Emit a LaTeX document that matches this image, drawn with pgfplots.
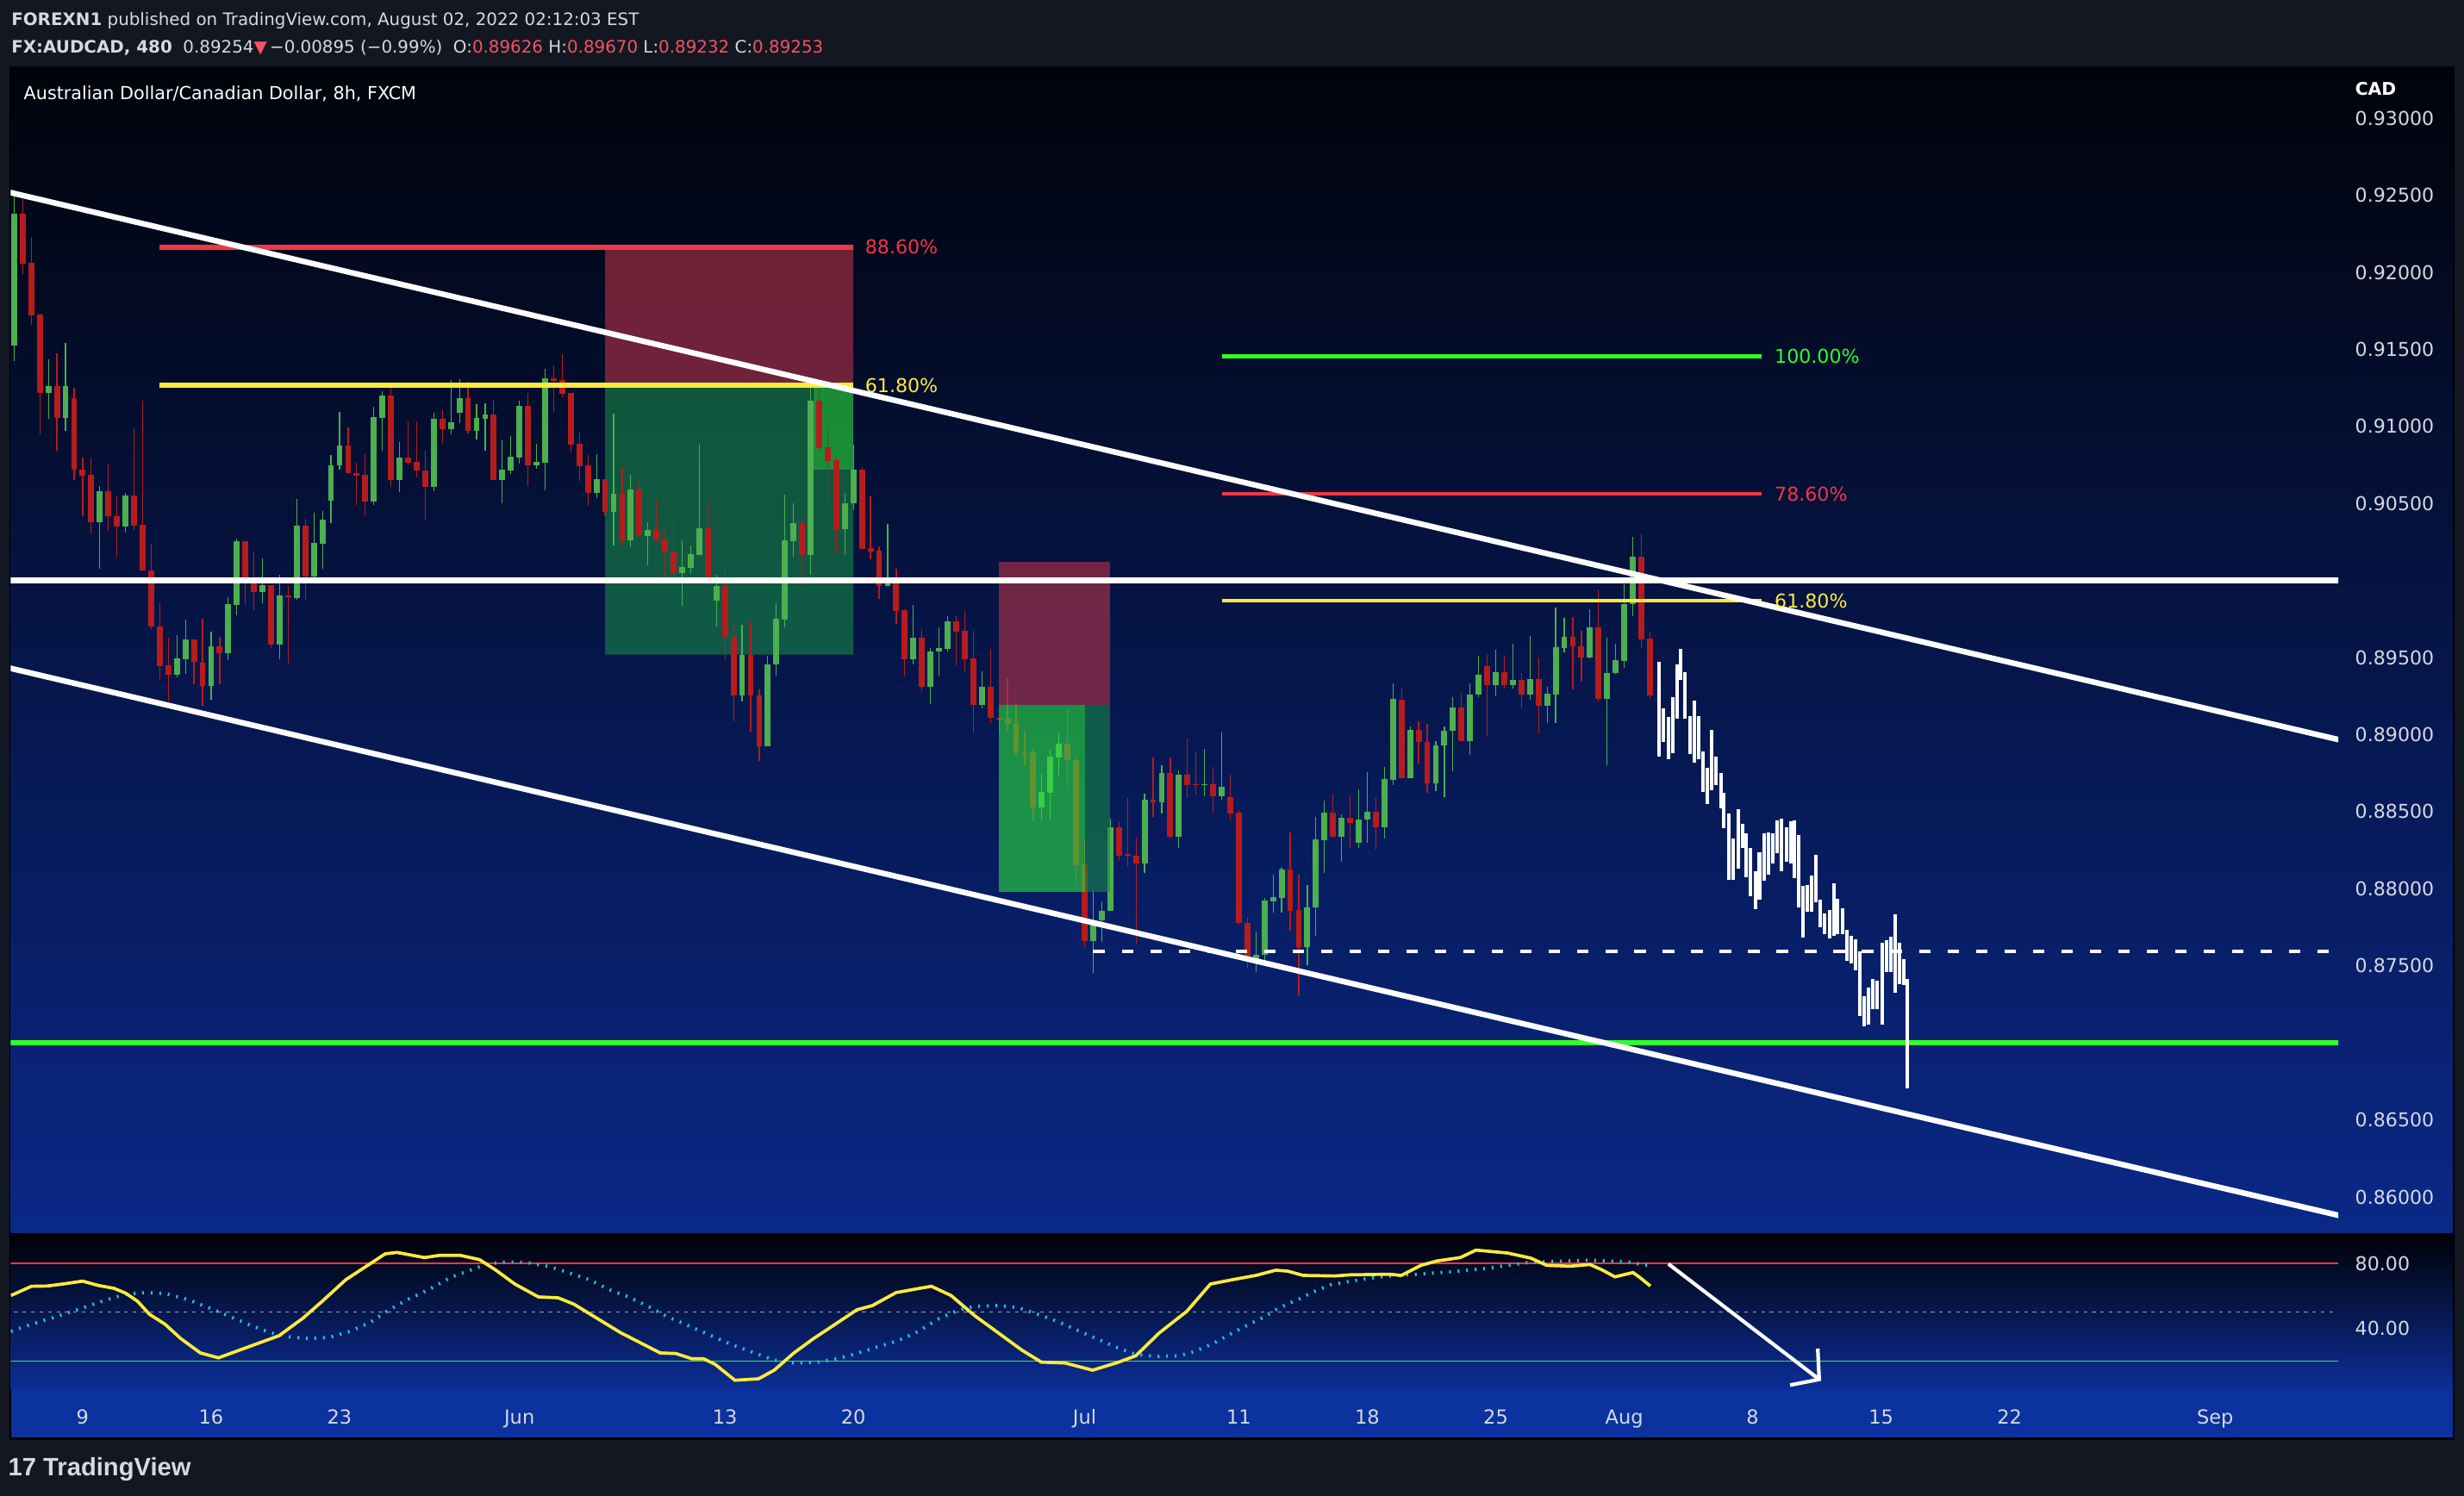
\documentclass[border=0pt]{standalone}
\usepackage{pgfplots}
\pgfplotsset{compat=1.18}
\usepackage{pgfplotstable}
\usepackage{fontspec}
\setmainfont{DejaVu Sans}
\newfontfamily\lib{Liberation Sans}

\definecolor{tvbg}{RGB}{19,23,34}
\definecolor{tvtext}{RGB}{214,217,224}
\definecolor{mtop}{RGB}{1,3,10}
\definecolor{mbot}{RGB}{10,40,135}
\definecolor{otop}{RGB}{0,1,6}
\definecolor{obot}{RGB}{12,46,150}
\definecolor{tband}{RGB}{11,50,158}
\definecolor{cup}{RGB}{76,175,80}
\definecolor{cdn}{RGB}{183,28,28}
\definecolor{fred}{RGB}{242,54,69}
\definecolor{fyel}{RGB}{255,235,59}
\definecolor{fgrn}{RGB}{46,255,46}
\definecolor{hred}{RGB}{247,82,95}
\definecolor{boxred}{RGB}{184,50,71}
\definecolor{boxgrn}{RGB}{24,135,70}
\definecolor{boxgrnb}{RGB}{42,225,62}
\definecolor{stk}{RGB}{255,235,59}
\definecolor{std}{RGB}{24,197,224}
\definecolor{cdbox}{RGB}{91,156,246}
\definecolor{cdtxt}{RGB}{25,40,80}

\newcommand\fs[1]{\fontsize{#1}{#1}\selectfont}

% 8h candles, i = bar number (3 a trading day), o h l c
\pgfplotstableread{
i o h l c
0 0.91526 0.92512 0.91426 0.92380
1 0.92380 0.92475 0.91988 0.92055
2 0.92063 0.92230 0.91658 0.91721
3 0.91726 0.91731 0.90947 0.91219
4 0.91219 0.91436 0.91047 0.91262
5 0.91262 0.91474 0.90840 0.91057
6 0.91057 0.91539 0.90970 0.91262
7 0.91184 0.91249 0.90655 0.90722
8 0.90722 0.90797 0.90415 0.90682
9 0.90687 0.90797 0.90308 0.90380
10 0.90380 0.90613 0.90078 0.90580
11 0.90580 0.90752 0.90321 0.90415
12 0.90415 0.90553 0.90153 0.90353
13 0.90353 0.90570 0.90313 0.90553
14 0.90553 0.90989 0.90326 0.90358
15 0.90363 0.91167 0.90063 0.90063
16 0.90066 0.90238 0.89679 0.89699
17 0.89702 0.89859 0.89357 0.89447
18 0.89452 0.89629 0.89215 0.89387
19 0.89387 0.89647 0.89372 0.89494
20 0.89492 0.89746 0.89392 0.89619
21 0.89619 0.89619 0.89325 0.89474
22 0.89467 0.89751 0.89187 0.89315
23 0.89315 0.89669 0.89225 0.89574
24 0.89574 0.89634 0.89325 0.89527
25 0.89527 0.89891 0.89482 0.89849
26 0.89844 0.90273 0.89776 0.90256
27 0.90256 0.90256 0.89844 0.90016
28 0.90016 0.90188 0.89806 0.89924
29 0.89924 0.90143 0.89851 0.89971
30 0.89971 0.89971 0.89564 0.89587
31 0.89587 0.90038 0.89487 0.89904
32 0.89904 0.89966 0.89464 0.89891
33 0.89889 0.90530 0.89874 0.90355
34 0.90355 0.90398 0.89874 0.90028
35 0.90028 0.90440 0.90023 0.90246
36 0.90241 0.90450 0.90078 0.90395
37 0.90520 0.90815 0.90375 0.90747
38 0.90745 0.91094 0.90722 0.90877
39 0.90877 0.90994 0.90695 0.90695
40 0.90697 0.90765 0.90488 0.90682
41 0.90687 0.90820 0.90420 0.90510
42 0.90510 0.91129 0.90488 0.91062
43 0.91057 0.91229 0.90845 0.91202
44 0.91202 0.91252 0.90605 0.90650
45 0.90650 0.90900 0.90573 0.90797
46 0.90797 0.91032 0.90745 0.90765
47 0.90770 0.91032 0.90668 0.90712
48 0.90715 0.90842 0.90393 0.90610
49 0.90610 0.91089 0.90578 0.91047
50 0.91047 0.91107 0.90895 0.90980
51 0.90980 0.91301 0.90947 0.91027
52 0.91087 0.91306 0.91019 0.91184
53 0.91184 0.91289 0.90957 0.90970
54 0.90970 0.91144 0.90917 0.91054
55 0.91052 0.91151 0.90840 0.91079
56 0.91079 0.91174 0.90650 0.90654
57 0.90654 0.90910 0.90499 0.90720
58 0.90716 0.90937 0.90694 0.90804
59 0.90800 0.91167 0.90760 0.91134
60 0.91134 0.91218 0.90616 0.90747
61 0.90747 0.90888 0.90727 0.90769
62 0.90765 0.91373 0.90588 0.91313
63 0.91313 0.91397 0.91096 0.91295
64 0.91302 0.91470 0.91189 0.91211
65 0.91218 0.91218 0.90831 0.90884
66 0.90888 0.90959 0.90647 0.90742
67 0.90747 0.90815 0.90482 0.90570
68 0.90570 0.90820 0.90537 0.90658
69 0.90658 0.90658 0.90415 0.90448
70 0.90448 0.91083 0.90227 0.90563
71 0.90563 0.90736 0.90232 0.90260
72 0.90260 0.90687 0.90218 0.90592
73 0.90592 0.90647 0.90289 0.90294
74 0.90291 0.90378 0.90101 0.90329
75 0.90329 0.90526 0.90254 0.90260
76 0.90267 0.90329 0.90017 0.90187
77 0.90187 0.90378 0.90006 0.90046
78 0.90046 0.90260 0.89838 0.90088
79 0.90084 0.90227 0.90046 0.90172
80 0.90168 0.90882 0.90168 0.90340
81 0.90340 0.90519 0.89962 0.90006
82 0.89871 0.90035 0.89699 0.89964
83 0.89964 0.90090 0.89482 0.89635
84 0.89635 0.89719 0.89089 0.89252
85 0.89252 0.89712 0.89217 0.89518
86 0.89518 0.89728 0.89022 0.89252
87 0.89254 0.89294 0.88832 0.88927
88 0.88927 0.89511 0.88927 0.89456
89 0.89453 0.89851 0.89381 0.89752
90 0.89747 0.90557 0.89697 0.90260
91 0.90256 0.90501 0.90157 0.90373
92 0.90373 0.90411 0.89962 0.90168
93 0.90168 0.91277 0.90039 0.91167
94 0.91167 0.91244 0.90842 0.90862
95 0.90866 0.90975 0.90510 0.90778
96 0.90782 0.90800 0.90179 0.90331
97 0.90331 0.90568 0.90168 0.90501
98 0.90499 0.90882 0.90459 0.90720
99 0.90720 0.90736 0.90201 0.90205
100 0.90212 0.90546 0.90139 0.90190
101 0.90194 0.90223 0.89878 0.89966
102 0.89966 0.90367 0.89962 0.89980
103 0.89980 0.90077 0.89721 0.89803
104 0.89807 0.89814 0.89385 0.89487
105 0.89487 0.89840 0.89453 0.89630
106 0.89630 0.89686 0.89281 0.89312
107 0.89312 0.89564 0.89201 0.89540
108 0.89540 0.89697 0.89383 0.89562
109 0.89559 0.89767 0.89540 0.89734
110 0.89734 0.89773 0.89449 0.89670
111 0.89675 0.89803 0.89403 0.89490
112 0.89495 0.89675 0.89016 0.89193
113 0.89193 0.89410 0.89173 0.89310
114 0.89310 0.89556 0.89077 0.89107
115 0.89107 0.89107 0.89006 0.89100
116 0.89102 0.89367 0.89025 0.89070
117 0.89075 0.89203 0.88865 0.88883
118 0.88888 0.89018 0.88803 0.88881
119 0.88885 0.88908 0.88440 0.88529
120 0.88529 0.88746 0.88452 0.88628
121 0.88623 0.88904 0.88452 0.88858
122 0.88853 0.89009 0.88733 0.88942
123 0.88942 0.89164 0.88659 0.88833
124 0.88835 0.88867 0.88032 0.88155
125 0.88160 0.88320 0.87619 0.87658
126 0.87658 0.87991 0.87452 0.87795
127 0.87795 0.87918 0.87653 0.87856
128 0.87854 0.88456 0.87854 0.88400
129 0.88400 0.88438 0.88183 0.88217
130 0.88224 0.88587 0.88144 0.88212
131 0.88212 0.88333 0.87642 0.88162
132 0.88162 0.88618 0.88103 0.88577
133 0.88577 0.88851 0.88468 0.88559
134 0.88559 0.88801 0.88491 0.88751
135 0.88751 0.88851 0.88329 0.88340
136 0.88340 0.88769 0.88267 0.88739
137 0.88739 0.88974 0.88591 0.88673
138 0.88676 0.88885 0.88609 0.88671
139 0.88671 0.88908 0.88598 0.88680
140 0.88680 0.88792 0.88491 0.88598
141 0.88598 0.89016 0.88580 0.88662
142 0.88596 0.88739 0.88452 0.88491
143 0.88495 0.88513 0.87765 0.87777
144 0.87779 0.87811 0.87480 0.87544
145 0.87530 0.87724 0.87457 0.87571
146 0.87571 0.87941 0.87521 0.87925
147 0.87920 0.88091 0.87843 0.87947
148 0.87943 0.88137 0.87843 0.88126
149 0.88126 0.88365 0.87726 0.87859
150 0.87863 0.88091 0.87304 0.87619
151 0.87619 0.88025 0.87505 0.87879
152 0.87877 0.88466 0.87692 0.88322
153 0.88317 0.88571 0.88103 0.88495
154 0.88495 0.88618 0.88336 0.88340
155 0.88340 0.88484 0.88178 0.88461
156 0.88461 0.88600 0.88263 0.88427
157 0.88301 0.88646 0.88263 0.88450
158 0.88450 0.88758 0.88301 0.88500
159 0.88500 0.88589 0.88256 0.88400
160 0.88400 0.88788 0.88327 0.88712
161 0.88707 0.89333 0.88673 0.89233
162 0.89229 0.89297 0.88720 0.88720
163 0.88720 0.89054 0.88720 0.89030
164 0.89030 0.89088 0.88812 0.88950
165 0.88950 0.89071 0.88625 0.88686
166 0.88686 0.88957 0.88635 0.88928
167 0.88928 0.89054 0.88593 0.89023
168 0.89023 0.89241 0.88763 0.89175
169 0.89175 0.89277 0.88957 0.88957
170 0.88957 0.89333 0.88867 0.89260
171 0.89260 0.89510 0.89241 0.89389
172 0.89442 0.89520 0.88993 0.89321
173 0.89321 0.89551 0.89248 0.89406
174 0.89406 0.89510 0.89297 0.89321
175 0.89321 0.89588 0.89301 0.89355
176 0.89355 0.89398 0.89171 0.89258
177 0.89258 0.89641 0.89224 0.89360
178 0.89360 0.89503 0.89006 0.89188
179 0.89188 0.89309 0.89078 0.89265
180 0.89260 0.89825 0.89078 0.89568
181 0.89563 0.89757 0.89534 0.89634
182 0.89634 0.89765 0.89292 0.89575
183 0.89575 0.89673 0.89345 0.89503
184 0.89503 0.89811 0.89495 0.89697
185 0.89697 0.89944 0.89217 0.89231
186 0.89231 0.89631 0.88800 0.89398
187 0.89398 0.89588 0.89394 0.89483
188 0.89478 0.89977 0.89435 0.89847
189 0.89847 0.90286 0.89770 0.90153
190 0.90153 0.90298 0.89563 0.89619
191 0.89626 0.89670 0.89232 0.89253
}\ohlc

% projected bars (bars pattern), low and high
\pgfplotstableread{
x lo hi
192.03 0.88855 0.89471
192.61 0.88952 0.89170
193.15 0.88843 0.89115
193.70 0.88880 0.89243
194.20 0.89103 0.89454
194.61 0.89357 0.89556
195.11 0.89103 0.89406
195.70 0.88872 0.89120
196.24 0.88816 0.89221
196.74 0.88841 0.89120
197.16 0.88630 0.88889
197.66 0.88550 0.88783
198.24 0.88642 0.89030
198.74 0.88671 0.88860
199.33 0.88521 0.88751
199.66 0.88392 0.88625
200.25 0.88060 0.88489
200.75 0.88060 0.88327
201.29 0.88133 0.88516
201.83 0.88266 0.88424
202.25 0.88077 0.88361
202.75 0.87951 0.88266
203.29 0.87866 0.88113
203.79 0.87927 0.88237
204.33 0.88053 0.88361
204.83 0.88089 0.88363
205.38 0.88162 0.88361
205.84 0.88230 0.88441
206.38 0.88116 0.88453
206.92 0.88176 0.88400
207.46 0.88164 0.88436
207.84 0.88067 0.88441
208.38 0.87878 0.88351
208.92 0.87684 0.88016
209.42 0.87849 0.88024
209.92 0.87849 0.88084
210.34 0.87914 0.88222
210.93 0.87752 0.87927
211.43 0.87708 0.87837
212.01 0.87677 0.87861
212.51 0.87696 0.88036
212.93 0.87708 0.87934
213.47 0.87708 0.87873
214.01 0.87534 0.87733
214.51 0.87514 0.87696
215.01 0.87473 0.87672
215.51 0.87175 0.87592
215.97 0.87109 0.87301
216.52 0.87121 0.87357
217.06 0.87218 0.87417
217.56 0.87218 0.87405
218.10 0.87121 0.87648
218.60 0.87458 0.87665
219.10 0.87458 0.87689
219.60 0.87325 0.87834
220.15 0.87381 0.87648
220.65 0.87374 0.87543
221.06 0.86707 0.87417
}\proj

\pgfplotsset{
  bar/.style 2 args={draw=none, mark=none,
    error bars/.cd, y dir=plus, y explicit, error mark=none,
    error bar style={draw=#1, line width=#2}},
}

\begin{document}
\begin{tikzpicture}[x=1cm,y=1cm]
\useasboundingbox (0,0) rectangle (28.59,17.36);
\fill[tvbg] (0,0) rectangle (28.59,17.36);
\fill[black] (0.11,0.65) rectangle (28.48,16.59);
\shade[top color=mtop, bottom color=mbot] (0.125,3.05) rectangle (28.46,16.58);
\shade[top color=otop, bottom color=obot] (0.125,1.23) rectangle (28.46,3.045);
\fill[tband] (0.125,0.68) rectangle (28.46,1.23);

% header
\node[anchor=base west, inner sep=0, text=tvtext, font=\fs{5.65}] at (0.126,17.067)
  {\textbf{FOREXN1} published on TradingView.com, August 02, 2022 02:12:03 EST};
\node[anchor=base west, inner sep=0, text=tvtext, font=\fs{5.65}] at (0.126,16.743)
  {\textbf{FX:AUDCAD, 480}\ \ 0.89254\textcolor{hred}{▼}\,−0.00895 (−0.99\%)\ \ O:\textcolor{hred}{0.89626} H:\textcolor{hred}{0.89670} L:\textcolor{hred}{0.89232} C:\textcolor{hred}{0.89253}};
\node[anchor=base west, inner sep=0, text=white, font=\fs{5.9}] at (0.27,16.20)
  {Australian Dollar/Canadian Dollar, 8h, FXCM};
\node[anchor=base west, inner sep=0, text=white, font=\bfseries\fs{5.8}] at (27.32,16.25) {CAD};

\begin{axis}[
  at={(0.125cm,3.05cm)}, anchor=south west, scale only axis,
  width=27.005cm, height=13.53cm,
  xmin=-0.392, xmax=271.37, ymin=0.857652, ymax=0.93331,
  axis line style={draw=none}, tick style={draw=none},
  xtick=\empty,
  ytick={0.86,0.865,0.875,0.88,0.885,0.89,0.895,0.905,0.91,0.915,0.92,0.925,0.93},
  yticklabels={0.86000,0.86500,0.87500,0.88000,0.88500,0.89000,0.89500,0.90500,0.91000,0.91500,0.92000,0.92500,0.93000},
  yticklabel pos=right,
  yticklabel style={anchor=west, inner sep=0pt, xshift=0.19cm, font=\fs{6.3}, text=tvtext},
]
% long position 1 (under the candles)
\addplot[draw=none, fill=boxred, fill opacity=0.6] coordinates {(69,0.92163) (98,0.92163) (98,0.91267) (69,0.91267)};
\addplot[draw=none, fill=boxgrn, fill opacity=0.6] coordinates {(69,0.91267) (93.3,0.91267) (93.3,0.90720) (98,0.90720) (98,0.89520) (69,0.89520)};
\addplot[draw=none, fill=boxgrnb, fill opacity=0.6] coordinates {(93.3,0.91267) (98,0.91267) (98,0.90720) (93.3,0.90720)};

% wicks
\addplot[x filter/.expression={\thisrow{c}<\thisrow{o} ? nan : \thisrow{i}}, bar={cup}{0.35pt}]
  table[x=i, y=l, y error plus expr={\thisrow{h}-\thisrow{l}}] {\ohlc};
\addplot[x filter/.expression={\thisrow{c}<\thisrow{o} ? \thisrow{i} : nan}, bar={cdn}{0.35pt}]
  table[x=i, y=l, y error plus expr={\thisrow{h}-\thisrow{l}}] {\ohlc};
% bodies
\addplot[x filter/.expression={\thisrow{c}<\thisrow{o} ? nan : \thisrow{i}}, bar={cup}{1.95pt}]
  table[x=i, y expr={min(\thisrow{o},\thisrow{c})}, y error plus expr={max(abs(\thisrow{c}-\thisrow{o}),0.00008)}] {\ohlc};
\addplot[x filter/.expression={\thisrow{c}<\thisrow{o} ? \thisrow{i} : nan}, bar={cdn}{1.95pt}]
  table[x=i, y expr={min(\thisrow{o},\thisrow{c})}, y error plus expr={max(abs(\thisrow{c}-\thisrow{o}),0.00008)}] {\ohlc};

% long position 2 (over the candles)
\addplot[draw=none, fill=boxred, fill opacity=0.6] coordinates {(115,0.90120) (128,0.90120) (128,0.89193) (115,0.89193)};
\addplot[draw=none, fill=boxgrnb, fill opacity=0.6] coordinates {(115,0.89193) (125,0.89193) (125,0.87982) (115,0.87982)};
\addplot[draw=none, fill=boxgrn, fill opacity=0.6] coordinates {(125,0.89193) (128,0.89193) (128,0.87982) (125,0.87982)};

% levels
\addplot[white, line width=1.9pt] coordinates {(-1,0.9) (272,0.9)};
\addplot[fgrn, line width=1.85pt] coordinates {(-1,0.87) (272,0.87)};
\addplot[white, line width=0.95pt, dash pattern=on 3.8pt off 5.6pt] coordinates {(126,0.87594) (272,0.87594)};

% fib 1
\addplot[fred, line width=1.8pt] coordinates {(17,0.92163) (98,0.92163)};
\addplot[fyel, line width=1.8pt] coordinates {(17,0.91267) (98,0.91267)};
% fib 2
\addplot[fgrn, line width=1.35pt] coordinates {(141,0.91453) (204,0.91453)};
\addplot[fred, line width=1.35pt] coordinates {(141,0.90563) (204,0.90563)};
\addplot[fyel, line width=1.35pt] coordinates {(141,0.89869) (204,0.89869)};

% channel
\addplot[white, line width=1.85pt] coordinates {(-1,0.92525) (272,0.88960)};
\addplot[white, line width=1.85pt] coordinates {(-1,0.89438) (272,0.85873)};

% projected bars
\addplot[bar={white}{1.15pt}]
  table[x=x, y=lo, y error plus expr={\thisrow{hi}-\thisrow{lo}}] {\proj};

\node[anchor=west, inner sep=0, text=fred, font=\fs{6.3}] at (axis cs:99.3,0.92163) {88.60\%};
\node[anchor=west, inner sep=0, text=fyel, font=\fs{6.3}] at (axis cs:99.3,0.91267) {61.80\%};
\node[anchor=west, inner sep=0, text=fgrn, font=\fs{6.3}] at (axis cs:205.5,0.91453) {100.00\%};
\node[anchor=west, inner sep=0, text=fred, font=\fs{6.3}] at (axis cs:205.5,0.90563) {78.60\%};
\node[anchor=west, inner sep=0, text=fyel, font=\fs{6.3}] at (axis cs:205.5,0.89869) {61.80\%};

% price scale labels
\fill[white, rounded corners=0.02cm] (axis cs:271.37,0.9) ++(0,-0.1475) rectangle ++(1.17,0.295);
\node[anchor=west, inner sep=0, xshift=0.19cm, text=black, font=\fs{6.3}] at (axis cs:271.37,0.9) {0.90000};
\fill[fgrn, rounded corners=0.02cm] (axis cs:271.37,0.87) ++(0,-0.1475) rectangle ++(1.17,0.295);
\node[anchor=west, inner sep=0, xshift=0.19cm, text=black, font=\fs{6.3}] at (axis cs:271.37,0.87) {0.87000};
\fill[cdbox, rounded corners=0.02cm] (axis cs:271.37,0.89253) ++(0,-0.155) rectangle ++(1.24,0.31);
\node[anchor=west, inner sep=0, xshift=0.19cm, text=cdtxt, font=\fs{6.3}] at (axis cs:271.37,0.89253) {05:48:01};
\end{axis}

% stochastic RSI pane
\begin{axis}[
  at={(0.125cm,1.23cm)}, anchor=south west, scale only axis,
  width=27.005cm, height=1.81cm,
  xmin=-0.392, xmax=271.37, ymin=2.33, ymax=97.97,
  axis line style={draw=none}, tick style={draw=none},
  xtick={8,23,38,59,83,98,125,143,158,173,188,203,218,233,257},
  xticklabels={9,16,23,Jun,13,20,Jul,11,18,25,Aug,8,15,22,Sep},
  xticklabel style={anchor=base, inner sep=0pt, yshift=-0.40cm, font=\fs{6.4}, text=tvtext},
  ytick={40,80}, yticklabels={40.00,80.00},
  yticklabel pos=right,
  yticklabel style={anchor=west, inner sep=0pt, xshift=0.19cm, font=\fs{6.3}, text=tvtext},
]
\addplot[fred, line width=0.45pt] coordinates {(-1,80) (272,80)};
\addplot[fgrn!80!cup, line width=0.45pt] coordinates {(-1,20) (272,20)};
\addplot[gray!70, line width=0.4pt, dash pattern=on 1.2pt off 1.6pt] coordinates {(-1,50) (272,50)};
% %D
\addplot[std, line width=1.1pt, dash pattern=on 0.6pt off 2.23pt] coordinates {
(-0.37,38.26)(2.02,42.66)(4.77,47.06)(7.53,51.82)(10.28,56.75)(13.03,61.15)(15.33,62.03)(17.62,61.50)
(20.38,57.63)(22.67,52.87)(24.97,47.94)(27.72,41.78)(30.01,37.37)(32.31,34.73)(34.60,33.85)(36.90,34.73)
(39.19,38.26)(41.48,43.54)(43.78,51.47)(46.07,58.16)(48.37,63.80)(51.12,71.72)(53.42,76.12)(55.25,79.65)
(57.55,80.88)(59.84,80.53)(62.59,77.88)(64.89,74.01)(67.18,69.96)(69.48,63.80)(71.77,59.39)(74.06,53.58)
(76.36,47.06)(79.11,40.90)(81.41,35.61)(83.70,30.33)(86.45,25.05)(88.75,20.64)(91.05,18.88)(93.80,19.41)
(96.09,21.52)(98.39,24.69)(100.68,28.57)(102.97,32.09)(105.27,37.37)(108.02,46.18)(110.32,51.47)(112.15,53.58)
(114.91,54.11)(117.20,52.87)(119.49,48.82)(121.79,44.42)(124.08,39.14)(126.38,33.85)(128.67,28.57)(130.97,24.17)
(133.26,22.93)(136.01,23.28)(137.85,25.93)(140.14,31.21)(142.26,37.37)(144.09,42.31)(145.92,47.06)(147.76,52.87)
(150.06,58.16)(151.89,62.91)(153.72,66.79)(156.02,69.08)(158.31,70.84)(160.60,72.25)(162.89,72.95)(165.19,73.83)
(167.48,74.71)(169.77,75.77)(172.07,77.00)(174.36,78.77)(176.65,80.35)(178.94,81.05)(181.24,81.41)(183.99,81.94)
(186.28,81.41)(188.57,80.70)(190.87,78.59)};
% %K
\addplot[stk, line width=1.05pt] coordinates {
(-0.37,60.27)(2.02,65.91)(3.86,66.08)(5.69,67.32)(7.99,69.08)(9.82,66.44)(11.66,64.67)(13.03,61.68)
(14.41,56.75)(15.79,48.82)(17.62,42.66)(19.46,33.85)(21.75,25.05)(23.86,22.05)(25.88,25.93)(29.09,32.09)
(30.93,35.61)(33.68,46.18)(35.98,56.75)(38.73,69.96)(41.03,77.88)(43.32,85.81)(44.70,86.69)(47.91,83.52)
(49.74,84.93)(52.04,84.93)(54.33,82.29)(56.17,76.12)(58.46,67.32)(61.22,59.39)(63.51,58.86)(65.35,54.99)
(68.10,46.18)(70.85,37.37)(73.15,31.21)(75.44,25.05)(77.28,24.69)(79.11,21.52)(80.49,21.52)(81.87,18.00)
(84.16,8.31)(86.92,9.19)(88.75,14.48)(91.05,25.05)(93.34,33.85)(95.63,41.78)(98.39,51.47)(100.22,54.11)
(102.97,62.03)(104.81,63.80)(107.11,65.91)(109.40,60.27)(112.15,47.94)(114.91,37.37)(117.66,26.81)(119.95,19.41)
(122.71,18.88)(125.92,14.48)(128.67,18.88)(130.97,23.28)(133.72,37.37)(136.93,50.58)(139.69,67.32)(142.26,69.96)
(145.01,72.60)(147.30,75.77)(148.68,75.24)(150.51,72.60)(154.18,72.25)(156.02,72.95)(160.60,73.31)(161.98,72.60)
(164.27,78.77)(166.10,81.41)(168.86,83.52)(170.69,88.10)(174.36,86.34)(177.11,83.17)(178.94,78.77)(181.69,78.24)
(183.99,79.29)(185.36,76.12)(186.92,71.72)(189.03,74.36)(189.95,70.84)(191.05,66.08)};
% arrow
\addplot[white, line width=1.2pt] coordinates {(193.16,79.65) (210.77,8.84)};
\addplot[white, line width=1.2pt] coordinates {(210.6,27.7) (210.77,8.84) (207.37,5.32)};
\end{axis}

% footer
\node[anchor=base west, inner sep=0, text=tvtext, font=\lib\bfseries\fs{8.3}] at (0.09,0.23) {17 TradingView};
\end{tikzpicture}
\end{document}
